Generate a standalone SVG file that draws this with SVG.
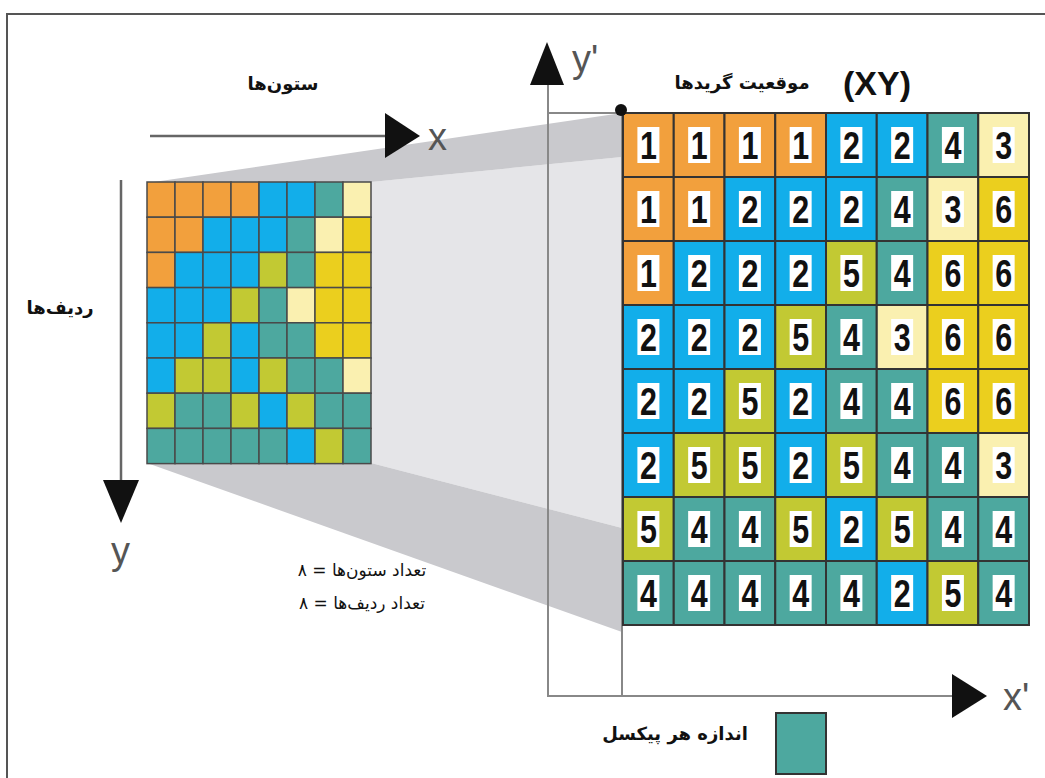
<svg xmlns="http://www.w3.org/2000/svg" width="1045" height="778" viewBox="0 0 1045 778">
<style>
.k1{fill:#F2A03D}.k2{fill:#12AEEA}.k3{fill:#FAF0B0}.k4{fill:#4DA89F}.k5{fill:#C2C933}.k6{fill:#EBCF1E}
.lc{stroke:#4a4a4a;stroke-width:1.5}
.rc{stroke:#333;stroke-width:2}
.wb{fill:#fff}
.n{font-family:"Liberation Sans",Arial,sans-serif;font-weight:bold;font-size:38px;text-anchor:middle;fill:#111;transform:scaleX(0.8)}
.ax{font-family:"Liberation Sans",Arial,sans-serif;font-size:38px;fill:#555}
.fa{font-family:"DejaVu Sans","Noto Sans",sans-serif;text-anchor:middle;fill:#111}
.b{font-weight:bold;font-size:18px}
.r{font-size:17px}
.axl{stroke:#666;stroke-width:2.5;fill:none}
.thin{stroke:#888;stroke-width:2;fill:none}
.tri{fill:#111}
</style>
<g id="frame"><path d="M7,778 V14 H1045" fill="none" stroke="#555" stroke-width="2"/></g>
<g id="projection">
<polygon points="371,182 622,157 622,528 371,463" fill="#e5e5e8"/>
<polygon points="147,183 622,113 622,157 371,182" fill="#c9c9cd"/>
<polygon points="147,463 371,463 622,528 622,632" fill="#c9c9cd"/>
</g>
<g id="connectors">
<line class="axl" x1="150" y1="136" x2="390" y2="136"/>
<polygon class="tri" points="385,113 420,136 385,158"/>
<line class="axl" x1="121" y1="180" x2="121" y2="485"/>
<polygon class="tri" points="103,480 121,523 139,480"/>
<line class="thin" x1="548" y1="80" x2="548" y2="697"/>
<polygon class="tri" points="530,85 547,42 564,85"/>
<line class="thin" x1="548" y1="696" x2="956" y2="696"/>
<polygon class="tri" points="952,674 987,696 952,718"/>
<line class="thin" x1="548" y1="113" x2="620" y2="113"/>
<line class="thin" x1="622" y1="113" x2="622" y2="697"/>
</g>
<g id="axisLabels">
<text class="ax" x="428" y="150">x</text>
<text class="ax" x="111" y="564">y</text>
<text class="ax" x="572" y="72">y'</text>
<text class="ax" x="1003" y="710">x'</text>
</g>
<g id="leftGrid">
<rect class="k1 lc" x="147" y="182" width="28" height="35.2"/><rect class="k1 lc" x="175" y="182" width="28" height="35.2"/><rect class="k1 lc" x="203" y="182" width="28" height="35.2"/><rect class="k1 lc" x="231" y="182" width="28" height="35.2"/><rect class="k2 lc" x="259" y="182" width="28" height="35.2"/><rect class="k2 lc" x="287" y="182" width="28" height="35.2"/><rect class="k4 lc" x="315" y="182" width="28" height="35.2"/><rect class="k3 lc" x="343" y="182" width="28" height="35.2"/>
<rect class="k1 lc" x="147" y="217.2" width="28" height="35.2"/><rect class="k1 lc" x="175" y="217.2" width="28" height="35.2"/><rect class="k2 lc" x="203" y="217.2" width="28" height="35.2"/><rect class="k2 lc" x="231" y="217.2" width="28" height="35.2"/><rect class="k2 lc" x="259" y="217.2" width="28" height="35.2"/><rect class="k4 lc" x="287" y="217.2" width="28" height="35.2"/><rect class="k3 lc" x="315" y="217.2" width="28" height="35.2"/><rect class="k6 lc" x="343" y="217.2" width="28" height="35.2"/>
<rect class="k1 lc" x="147" y="252.4" width="28" height="35.2"/><rect class="k2 lc" x="175" y="252.4" width="28" height="35.2"/><rect class="k2 lc" x="203" y="252.4" width="28" height="35.2"/><rect class="k2 lc" x="231" y="252.4" width="28" height="35.2"/><rect class="k5 lc" x="259" y="252.4" width="28" height="35.2"/><rect class="k4 lc" x="287" y="252.4" width="28" height="35.2"/><rect class="k6 lc" x="315" y="252.4" width="28" height="35.2"/><rect class="k6 lc" x="343" y="252.4" width="28" height="35.2"/>
<rect class="k2 lc" x="147" y="287.6" width="28" height="35.2"/><rect class="k2 lc" x="175" y="287.6" width="28" height="35.2"/><rect class="k2 lc" x="203" y="287.6" width="28" height="35.2"/><rect class="k5 lc" x="231" y="287.6" width="28" height="35.2"/><rect class="k4 lc" x="259" y="287.6" width="28" height="35.2"/><rect class="k3 lc" x="287" y="287.6" width="28" height="35.2"/><rect class="k6 lc" x="315" y="287.6" width="28" height="35.2"/><rect class="k6 lc" x="343" y="287.6" width="28" height="35.2"/>
<rect class="k2 lc" x="147" y="322.8" width="28" height="35.2"/><rect class="k2 lc" x="175" y="322.8" width="28" height="35.2"/><rect class="k5 lc" x="203" y="322.8" width="28" height="35.2"/><rect class="k2 lc" x="231" y="322.8" width="28" height="35.2"/><rect class="k4 lc" x="259" y="322.8" width="28" height="35.2"/><rect class="k4 lc" x="287" y="322.8" width="28" height="35.2"/><rect class="k6 lc" x="315" y="322.8" width="28" height="35.2"/><rect class="k6 lc" x="343" y="322.8" width="28" height="35.2"/>
<rect class="k2 lc" x="147" y="358" width="28" height="35.2"/><rect class="k5 lc" x="175" y="358" width="28" height="35.2"/><rect class="k5 lc" x="203" y="358" width="28" height="35.2"/><rect class="k2 lc" x="231" y="358" width="28" height="35.2"/><rect class="k5 lc" x="259" y="358" width="28" height="35.2"/><rect class="k4 lc" x="287" y="358" width="28" height="35.2"/><rect class="k4 lc" x="315" y="358" width="28" height="35.2"/><rect class="k3 lc" x="343" y="358" width="28" height="35.2"/>
<rect class="k5 lc" x="147" y="393.2" width="28" height="35.2"/><rect class="k4 lc" x="175" y="393.2" width="28" height="35.2"/><rect class="k4 lc" x="203" y="393.2" width="28" height="35.2"/><rect class="k5 lc" x="231" y="393.2" width="28" height="35.2"/><rect class="k2 lc" x="259" y="393.2" width="28" height="35.2"/><rect class="k5 lc" x="287" y="393.2" width="28" height="35.2"/><rect class="k4 lc" x="315" y="393.2" width="28" height="35.2"/><rect class="k4 lc" x="343" y="393.2" width="28" height="35.2"/>
<rect class="k4 lc" x="147" y="428.4" width="28" height="35.2"/><rect class="k4 lc" x="175" y="428.4" width="28" height="35.2"/><rect class="k4 lc" x="203" y="428.4" width="28" height="35.2"/><rect class="k4 lc" x="231" y="428.4" width="28" height="35.2"/><rect class="k4 lc" x="259" y="428.4" width="28" height="35.2"/><rect class="k2 lc" x="287" y="428.4" width="28" height="35.2"/><rect class="k5 lc" x="315" y="428.4" width="28" height="35.2"/><rect class="k4 lc" x="343" y="428.4" width="28" height="35.2"/>
</g>
<defs>
<rect id="wbx" class="wb" x="14.4" y="14" width="22" height="36"/>
</defs>
<g id="rightGrid">
<g transform="translate(0,113)">
<g transform="translate(623,0)"><rect class="k1 rc" width="50.75" height="64"/><use href="#wbx"/><text class="n" x="31.75" y="46">1</text></g>
<g transform="translate(673.75,0)"><rect class="k1 rc" width="50.75" height="64"/><use href="#wbx"/><text class="n" x="31.75" y="46">1</text></g>
<g transform="translate(724.5,0)"><rect class="k1 rc" width="50.75" height="64"/><use href="#wbx"/><text class="n" x="31.75" y="46">1</text></g>
<g transform="translate(775.25,0)"><rect class="k1 rc" width="50.75" height="64"/><use href="#wbx"/><text class="n" x="31.75" y="46">1</text></g>
<g transform="translate(826,0)"><rect class="k2 rc" width="50.75" height="64"/><use href="#wbx"/><text class="n" x="31.75" y="46">2</text></g>
<g transform="translate(876.75,0)"><rect class="k2 rc" width="50.75" height="64"/><use href="#wbx"/><text class="n" x="31.75" y="46">2</text></g>
<g transform="translate(927.5,0)"><rect class="k4 rc" width="50.75" height="64"/><use href="#wbx"/><text class="n" x="31.75" y="46">4</text></g>
<g transform="translate(978.25,0)"><rect class="k3 rc" width="50.75" height="64"/><use href="#wbx"/><text class="n" x="31.75" y="46">3</text></g>
</g>
<g transform="translate(0,177)">
<g transform="translate(623,0)"><rect class="k1 rc" width="50.75" height="64"/><use href="#wbx"/><text class="n" x="31.75" y="46">1</text></g>
<g transform="translate(673.75,0)"><rect class="k1 rc" width="50.75" height="64"/><use href="#wbx"/><text class="n" x="31.75" y="46">1</text></g>
<g transform="translate(724.5,0)"><rect class="k2 rc" width="50.75" height="64"/><use href="#wbx"/><text class="n" x="31.75" y="46">2</text></g>
<g transform="translate(775.25,0)"><rect class="k2 rc" width="50.75" height="64"/><use href="#wbx"/><text class="n" x="31.75" y="46">2</text></g>
<g transform="translate(826,0)"><rect class="k2 rc" width="50.75" height="64"/><use href="#wbx"/><text class="n" x="31.75" y="46">2</text></g>
<g transform="translate(876.75,0)"><rect class="k4 rc" width="50.75" height="64"/><use href="#wbx"/><text class="n" x="31.75" y="46">4</text></g>
<g transform="translate(927.5,0)"><rect class="k3 rc" width="50.75" height="64"/><use href="#wbx"/><text class="n" x="31.75" y="46">3</text></g>
<g transform="translate(978.25,0)"><rect class="k6 rc" width="50.75" height="64"/><use href="#wbx"/><text class="n" x="31.75" y="46">6</text></g>
</g>
<g transform="translate(0,241)">
<g transform="translate(623,0)"><rect class="k1 rc" width="50.75" height="64"/><use href="#wbx"/><text class="n" x="31.75" y="46">1</text></g>
<g transform="translate(673.75,0)"><rect class="k2 rc" width="50.75" height="64"/><use href="#wbx"/><text class="n" x="31.75" y="46">2</text></g>
<g transform="translate(724.5,0)"><rect class="k2 rc" width="50.75" height="64"/><use href="#wbx"/><text class="n" x="31.75" y="46">2</text></g>
<g transform="translate(775.25,0)"><rect class="k2 rc" width="50.75" height="64"/><use href="#wbx"/><text class="n" x="31.75" y="46">2</text></g>
<g transform="translate(826,0)"><rect class="k5 rc" width="50.75" height="64"/><use href="#wbx"/><text class="n" x="31.75" y="46">5</text></g>
<g transform="translate(876.75,0)"><rect class="k4 rc" width="50.75" height="64"/><use href="#wbx"/><text class="n" x="31.75" y="46">4</text></g>
<g transform="translate(927.5,0)"><rect class="k6 rc" width="50.75" height="64"/><use href="#wbx"/><text class="n" x="31.75" y="46">6</text></g>
<g transform="translate(978.25,0)"><rect class="k6 rc" width="50.75" height="64"/><use href="#wbx"/><text class="n" x="31.75" y="46">6</text></g>
</g>
<g transform="translate(0,305)">
<g transform="translate(623,0)"><rect class="k2 rc" width="50.75" height="64"/><use href="#wbx"/><text class="n" x="31.75" y="46">2</text></g>
<g transform="translate(673.75,0)"><rect class="k2 rc" width="50.75" height="64"/><use href="#wbx"/><text class="n" x="31.75" y="46">2</text></g>
<g transform="translate(724.5,0)"><rect class="k2 rc" width="50.75" height="64"/><use href="#wbx"/><text class="n" x="31.75" y="46">2</text></g>
<g transform="translate(775.25,0)"><rect class="k5 rc" width="50.75" height="64"/><use href="#wbx"/><text class="n" x="31.75" y="46">5</text></g>
<g transform="translate(826,0)"><rect class="k4 rc" width="50.75" height="64"/><use href="#wbx"/><text class="n" x="31.75" y="46">4</text></g>
<g transform="translate(876.75,0)"><rect class="k3 rc" width="50.75" height="64"/><use href="#wbx"/><text class="n" x="31.75" y="46">3</text></g>
<g transform="translate(927.5,0)"><rect class="k6 rc" width="50.75" height="64"/><use href="#wbx"/><text class="n" x="31.75" y="46">6</text></g>
<g transform="translate(978.25,0)"><rect class="k6 rc" width="50.75" height="64"/><use href="#wbx"/><text class="n" x="31.75" y="46">6</text></g>
</g>
<g transform="translate(0,369)">
<g transform="translate(623,0)"><rect class="k2 rc" width="50.75" height="64"/><use href="#wbx"/><text class="n" x="31.75" y="46">2</text></g>
<g transform="translate(673.75,0)"><rect class="k2 rc" width="50.75" height="64"/><use href="#wbx"/><text class="n" x="31.75" y="46">2</text></g>
<g transform="translate(724.5,0)"><rect class="k5 rc" width="50.75" height="64"/><use href="#wbx"/><text class="n" x="31.75" y="46">5</text></g>
<g transform="translate(775.25,0)"><rect class="k2 rc" width="50.75" height="64"/><use href="#wbx"/><text class="n" x="31.75" y="46">2</text></g>
<g transform="translate(826,0)"><rect class="k4 rc" width="50.75" height="64"/><use href="#wbx"/><text class="n" x="31.75" y="46">4</text></g>
<g transform="translate(876.75,0)"><rect class="k4 rc" width="50.75" height="64"/><use href="#wbx"/><text class="n" x="31.75" y="46">4</text></g>
<g transform="translate(927.5,0)"><rect class="k6 rc" width="50.75" height="64"/><use href="#wbx"/><text class="n" x="31.75" y="46">6</text></g>
<g transform="translate(978.25,0)"><rect class="k6 rc" width="50.75" height="64"/><use href="#wbx"/><text class="n" x="31.75" y="46">6</text></g>
</g>
<g transform="translate(0,433)">
<g transform="translate(623,0)"><rect class="k2 rc" width="50.75" height="64"/><use href="#wbx"/><text class="n" x="31.75" y="46">2</text></g>
<g transform="translate(673.75,0)"><rect class="k5 rc" width="50.75" height="64"/><use href="#wbx"/><text class="n" x="31.75" y="46">5</text></g>
<g transform="translate(724.5,0)"><rect class="k5 rc" width="50.75" height="64"/><use href="#wbx"/><text class="n" x="31.75" y="46">5</text></g>
<g transform="translate(775.25,0)"><rect class="k2 rc" width="50.75" height="64"/><use href="#wbx"/><text class="n" x="31.75" y="46">2</text></g>
<g transform="translate(826,0)"><rect class="k5 rc" width="50.75" height="64"/><use href="#wbx"/><text class="n" x="31.75" y="46">5</text></g>
<g transform="translate(876.75,0)"><rect class="k4 rc" width="50.75" height="64"/><use href="#wbx"/><text class="n" x="31.75" y="46">4</text></g>
<g transform="translate(927.5,0)"><rect class="k4 rc" width="50.75" height="64"/><use href="#wbx"/><text class="n" x="31.75" y="46">4</text></g>
<g transform="translate(978.25,0)"><rect class="k3 rc" width="50.75" height="64"/><use href="#wbx"/><text class="n" x="31.75" y="46">3</text></g>
</g>
<g transform="translate(0,497)">
<g transform="translate(623,0)"><rect class="k5 rc" width="50.75" height="64"/><use href="#wbx"/><text class="n" x="31.75" y="46">5</text></g>
<g transform="translate(673.75,0)"><rect class="k4 rc" width="50.75" height="64"/><use href="#wbx"/><text class="n" x="31.75" y="46">4</text></g>
<g transform="translate(724.5,0)"><rect class="k4 rc" width="50.75" height="64"/><use href="#wbx"/><text class="n" x="31.75" y="46">4</text></g>
<g transform="translate(775.25,0)"><rect class="k5 rc" width="50.75" height="64"/><use href="#wbx"/><text class="n" x="31.75" y="46">5</text></g>
<g transform="translate(826,0)"><rect class="k2 rc" width="50.75" height="64"/><use href="#wbx"/><text class="n" x="31.75" y="46">2</text></g>
<g transform="translate(876.75,0)"><rect class="k5 rc" width="50.75" height="64"/><use href="#wbx"/><text class="n" x="31.75" y="46">5</text></g>
<g transform="translate(927.5,0)"><rect class="k4 rc" width="50.75" height="64"/><use href="#wbx"/><text class="n" x="31.75" y="46">4</text></g>
<g transform="translate(978.25,0)"><rect class="k4 rc" width="50.75" height="64"/><use href="#wbx"/><text class="n" x="31.75" y="46">4</text></g>
</g>
<g transform="translate(0,561)">
<g transform="translate(623,0)"><rect class="k4 rc" width="50.75" height="64"/><use href="#wbx"/><text class="n" x="31.75" y="46">4</text></g>
<g transform="translate(673.75,0)"><rect class="k4 rc" width="50.75" height="64"/><use href="#wbx"/><text class="n" x="31.75" y="46">4</text></g>
<g transform="translate(724.5,0)"><rect class="k4 rc" width="50.75" height="64"/><use href="#wbx"/><text class="n" x="31.75" y="46">4</text></g>
<g transform="translate(775.25,0)"><rect class="k4 rc" width="50.75" height="64"/><use href="#wbx"/><text class="n" x="31.75" y="46">4</text></g>
<g transform="translate(826,0)"><rect class="k4 rc" width="50.75" height="64"/><use href="#wbx"/><text class="n" x="31.75" y="46">4</text></g>
<g transform="translate(876.75,0)"><rect class="k2 rc" width="50.75" height="64"/><use href="#wbx"/><text class="n" x="31.75" y="46">2</text></g>
<g transform="translate(927.5,0)"><rect class="k5 rc" width="50.75" height="64"/><use href="#wbx"/><text class="n" x="31.75" y="46">5</text></g>
<g transform="translate(978.25,0)"><rect class="k4 rc" width="50.75" height="64"/><use href="#wbx"/><text class="n" x="31.75" y="46">4</text></g>
</g>
</g>
<g id="origin"><circle cx="621" cy="110" r="6" fill="#111"/></g>
<g id="labels">
<text class="fa b" x="283" y="90" direction="rtl" font-size="19">ستون‌ها</text>
<text class="fa b" x="60" y="314" direction="rtl" font-size="20">ردیف‌ها</text>
<text class="fa r" x="362" y="576" direction="rtl">تعداد ستون‌ها = ۸</text>
<text class="fa r" x="362" y="609" direction="rtl">تعداد ردیف‌ها = ۸</text>
<text class="fa b" x="742" y="89" direction="rtl">موقعیت گریدها</text>
<text x="877" y="95" font-family="Liberation Sans,Arial,sans-serif" font-weight="bold" font-size="34" text-anchor="middle" fill="#111">(XY)</text>
<text class="fa b" x="675" y="740" direction="rtl">اندازه هر پیکسل</text>
</g>
<g id="legend"><rect class="k4" x="776" y="713" width="50" height="61" stroke="#333" stroke-width="2"/></g>
</svg>
